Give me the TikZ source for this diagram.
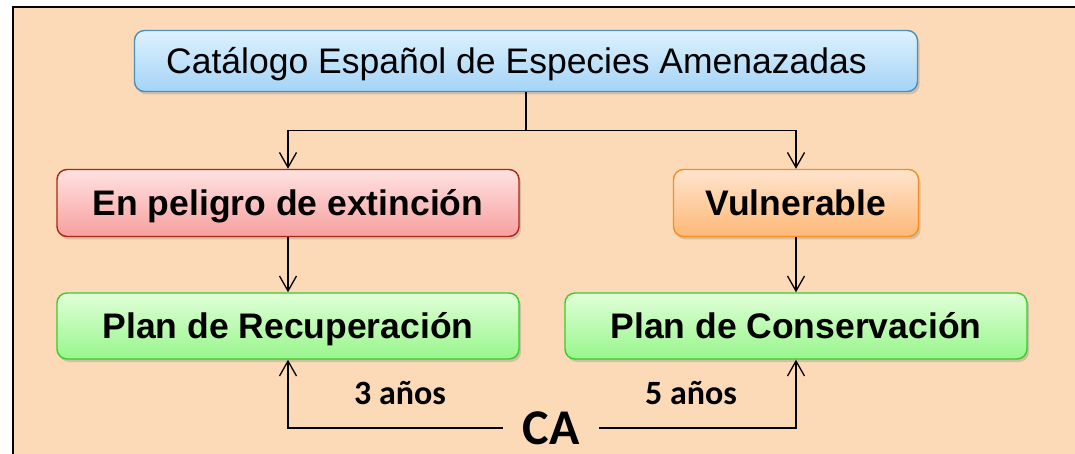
\documentclass[tikz,border=0pt]{standalone}
\usepackage{fontspec}
\setmainfont{Liberation Sans}
\newfontfamily\calibri{Carlito}
\usetikzlibrary{positioning,shadows,arrows.meta}
\definecolor{fondo}{RGB}{252,218,183}
\definecolor{azulA}{RGB}{222,241,254}
\definecolor{azulB}{RGB}{164,212,246}
\definecolor{azulL}{RGB}{74,144,184}
\definecolor{rojoA}{RGB}{255,226,226}
\definecolor{rojoB}{RGB}{246,160,158}
\definecolor{rojoL}{RGB}{168,40,22}
\definecolor{naranjaA}{RGB}{255,228,206}
\definecolor{naranjaB}{RGB}{253,184,118}
\definecolor{naranjaL}{RGB}{246,142,30}
\definecolor{verdeA}{RGB}{224,255,216}
\definecolor{verdeB}{RGB}{152,246,140}
\definecolor{verdeL}{RGB}{58,204,40}
\def\dy{38}
\tikzstyle{caja}=[rounded corners=10pt,line width=1.4pt,inner sep=0pt,
  text height=25pt,text depth=0pt,
  drop shadow={shadow xshift=2pt,shadow yshift=-3pt,opacity=0.3}]
\tikzstyle{catalogo}=[caja,draw=azulL,top color=azulA,bottom color=azulB,
  font=\fontsize{35.5}{40}\selectfont]
\tikzstyle{peligro}=[caja,draw=rojoL,top color=rojoA,bottom color=rojoB,
  font=\fontsize{35.5}{40}\selectfont\bfseries]
\tikzstyle{vulner}=[caja,draw=naranjaL,top color=naranjaA,bottom color=naranjaB,
  font=\fontsize{35.5}{40}\selectfont\bfseries]
\tikzstyle{plan}=[caja,draw=verdeL,top color=verdeA,bottom color=verdeB,
  font=\fontsize{35.5}{40}\selectfont\bfseries]
\tikzstyle{plazo}=[font=\calibri\fontsize{34}{40}\selectfont\bfseries]
\newcommand{\newCaja}[5]{\node[#3,minimum width=#5](#1) at (#4) {#2};}
\newcommand{\newFlecha}[2]{\draw[->] (#1) -- (#2);}

\begin{document}
\begin{tikzpicture}[x=1pt,y=-1pt,
      >={Straight Barb[length=15pt,width=17pt]},
      line width=1.3pt
      ]
      \useasboundingbox (0,0) rectangle (1075,454);
      \clip (0,0) rectangle (1075,454);
      \draw[fill=fondo,line width=2pt] (13,7) rectangle (1090,470);
      % cajas
      \newCaja{cat}{Catálogo Español de Especies Amenazadas\hspace*{19pt}}{catalogo,minimum height=61pt}{526,61}{783pt}
      \newCaja{pel}{En peligro de extinción}{peligro,minimum height=67pt}{288,203}{462pt}
      \newCaja{vul}{Vulnerable}{vulner,minimum height=67pt}{796,203}{245pt}
      \newCaja{rec}{Plan de Recuperación}{plan,minimum height=66pt}{288,326}{462pt}
      \newCaja{con}{Plan de Conservación}{plan,minimum height=66pt}{796,326}{462pt}
      \node[font=\calibri\fontsize{50}{55}\selectfont\bfseries,inner xsep=19pt,inner ysep=1pt](ca) at (551,428) {CA};
      \node[plazo](t3) at (400,393) {3 años};
      \node[plazo](t5) at (691,393) {5 años};
      % flechas
      \path (cat.south) -- ++(0,\dy) coordinate (rama);
      \draw[->] (cat.south) -- (rama) -| (pel.north);
      \draw[->] (rama) -| (vul.north);
      \newFlecha{pel.south}{rec.north}
      \newFlecha{vul.south}{con.north}
      \draw[->] (ca.west) -| (rec.south);
      \draw[->] (ca.east) -| (con.south);
\end{tikzpicture}
\end{document}
